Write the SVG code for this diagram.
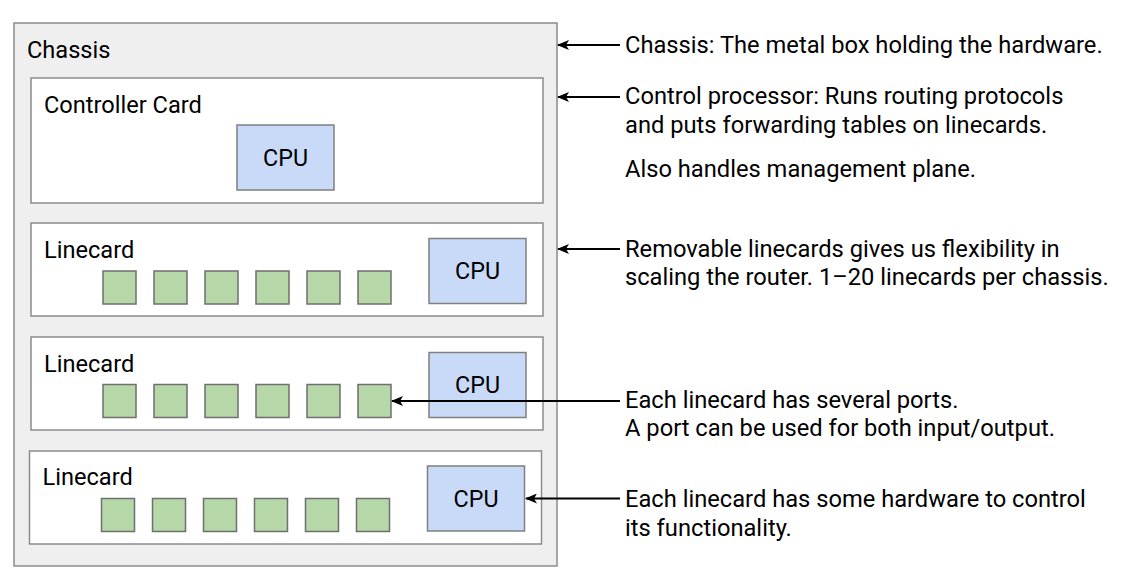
<svg xmlns="http://www.w3.org/2000/svg" width="1133" height="578" viewBox="0 0 1133 578">
<defs>
<style>
text{font-family:Roboto,"Liberation Sans",sans-serif;fill:#000}
.lbl{font-size:23.6px}
.note{font-size:23.7px}
.cpu-t{font-size:23.3px;text-anchor:middle}
.chassis{fill:#efefef;stroke:#8c8c8c;stroke-width:1.5}
.card{fill:#fff;stroke:#8c8c8c;stroke-width:1.5}
.cpu{fill:#c9daf8;stroke:#7f7f7f;stroke-width:1.5}
.port{fill:#b6d7a8;stroke:#6f6f6f;stroke-width:1.5}
.conn{stroke:#000;stroke-width:2;fill:none;marker-end:url(#ah)}
</style>
<marker id="ah" viewBox="0 0 12 10" refX="11" refY="5" markerWidth="12" markerHeight="10" markerUnits="userSpaceOnUse" orient="auto">
<path d="M0,0 L12,5 L0,10 L3,5 Z" fill="#000"/>
</marker>
</defs>
<rect width="1133" height="578" fill="#fff"/>
<g id="chassis">
<rect class="chassis" x="14" y="23" width="543" height="543"/>
<text class="lbl" x="27" y="57.5">Chassis</text>
</g>
<g id="controller-card">
<rect class="card" x="31" y="78" width="512" height="125"/>
<text class="lbl" x="44" y="112.5">Controller Card</text>
<rect class="cpu" x="237" y="125" width="97" height="65"/>
<text class="cpu-t" x="285.5" y="165.5">CPU</text>
</g>
<g id="linecard-1">
<rect class="card" x="31" y="223" width="512" height="93"/>
<text class="lbl" x="44" y="257.5">Linecard</text>
<rect class="port" x="103" y="271" width="33" height="33"/>
<rect class="port" x="154" y="271" width="33" height="33"/>
<rect class="port" x="205" y="271" width="33" height="33"/>
<rect class="port" x="256" y="271" width="33" height="33"/>
<rect class="port" x="307" y="271" width="33" height="33"/>
<rect class="port" x="358" y="271" width="33" height="33"/>
<rect class="cpu" x="429" y="238.5" width="97" height="65"/>
<text class="cpu-t" x="477.5" y="279">CPU</text>
</g>
<g id="linecard-2">
<rect class="card" x="31" y="337" width="512" height="93"/>
<text class="lbl" x="44" y="371.5">Linecard</text>
<rect class="port" x="103" y="384.5" width="33" height="33"/>
<rect class="port" x="154" y="384.5" width="33" height="33"/>
<rect class="port" x="205" y="384.5" width="33" height="33"/>
<rect class="port" x="256" y="384.5" width="33" height="33"/>
<rect class="port" x="307" y="384.5" width="33" height="33"/>
<rect class="port" x="358" y="384.5" width="33" height="33"/>
<rect class="cpu" x="429" y="352.5" width="97" height="65"/>
<text class="cpu-t" x="477.5" y="393">CPU</text>
</g>
<g id="linecard-3">
<rect class="card" x="29.5" y="451" width="512" height="93"/>
<text class="lbl" x="42.5" y="485">Linecard</text>
<rect class="port" x="101.5" y="498.5" width="33" height="33"/>
<rect class="port" x="152.5" y="498.5" width="33" height="33"/>
<rect class="port" x="203.5" y="498.5" width="33" height="33"/>
<rect class="port" x="254.5" y="498.5" width="33" height="33"/>
<rect class="port" x="305.5" y="498.5" width="33" height="33"/>
<rect class="port" x="356.5" y="498.5" width="33" height="33"/>
<rect class="cpu" x="427.5" y="466" width="97" height="65"/>
<text class="cpu-t" x="476" y="506.5">CPU</text>
</g>
<g id="notes">
<text class="note" x="625" y="53">Chassis: The metal box holding the hardware.</text>
<text class="note" x="625" y="104">Control processor: Runs routing protocols</text>
<text class="note" x="625" y="132.5">and puts forwarding tables on linecards.</text>
<text class="note" x="625" y="177">Also handles management plane.</text>
<text class="note" x="625" y="256.5">Removable linecards gives us flexibility in</text>
<text class="note" x="625" y="285">scaling the router. 1–20 linecards per chassis.</text>
<text class="note" x="625" y="407.5">Each linecard has several ports.</text>
<text class="note" x="625" y="436">A port can be used for both input/output.</text>
<text class="note" x="625" y="507">Each linecard has some hardware to control</text>
<text class="note" x="625" y="535.5">its functionality.</text>
</g>
<g id="connectors">
<line class="conn" x1="620" y1="45" x2="558" y2="45"/>
<line class="conn" x1="620" y1="97" x2="558" y2="97"/>
<line class="conn" x1="620" y1="249" x2="558" y2="249"/>
<line class="conn" x1="620" y1="401" x2="392" y2="401"/>
<line class="conn" x1="620" y1="498.5" x2="526" y2="498.5"/>
</g>
</svg>
